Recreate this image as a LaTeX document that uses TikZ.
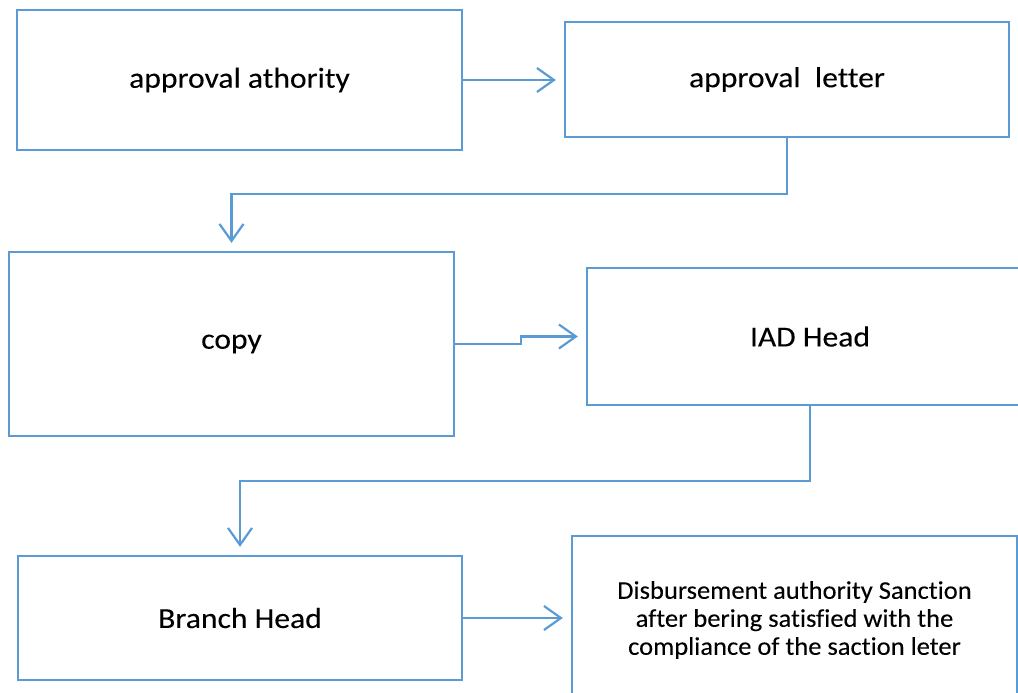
\documentclass[tikz,border=0pt]{standalone}
\usepackage{fontspec}
\newfontfamily\lab{Carlito}[FakeStretch=1.09, FakeBold=0.1, Ligatures=NoCommon]
\newfontfamily\labsmall{Carlito}[FakeStretch=1.04, FakeBold=0.1, Ligatures=NoCommon]
\usetikzlibrary{arrows.meta}
\definecolor{officeblue}{RGB}{91,155,213}
\tikzset{
  box/.style={draw=officeblue, line width=2.3pt, fill=white, inner sep=0pt, align=center, font=\lab\fontsize{29}{34}\selectfont},
  smallbox/.style={box, font=\labsmall\fontsize{25.5}{28}\selectfont},
  conn/.style={draw=officeblue, line width=2.2pt, -{Straight Barb[length=17pt,width=24pt]}, shorten >=8pt}
}
\begin{document}
\begin{tikzpicture}[x=1pt,y=-1pt]
\useasboundingbox (0,0) rectangle (1018,693);
\clip (0,0) rectangle (1018,693);
\node[box, minimum width=445pt, minimum height=140pt] (b1) at (239.5,80) {approval athority};
\node[box, minimum width=444pt, minimum height=115pt] (b2) at (787,79.5) {approval\ \ letter};
\node[box, minimum width=445pt, minimum height=184pt] (b3) at (231.5,344) {copy};
\node[box, minimum width=446pt, minimum height=137pt] (b4) at (810,336.5) {IAD Head};
\node[box, minimum width=444pt, minimum height=124pt] (b5) at (240,618) {Branch Head};
\node[smallbox, minimum width=445pt, minimum height=168pt] (b6) at (794.5,620) {Disbursement authority Sanction\\after bering satisfied with the\\compliance of the saction leter};
\draw[conn] (b1.east) -- (b1.east -| b2.west);
\draw[conn] (b2.south) -- ++(0,56) -| (b3.north);
\draw[conn] (b3.east) -- ++(66,0) |- (b4.west);
\draw[conn] (b4.south) -- ++(0,75) -| (b5.north);
\draw[conn] (b5.east) -- (b5.east -| b6.west);
\end{tikzpicture}
\end{document}
